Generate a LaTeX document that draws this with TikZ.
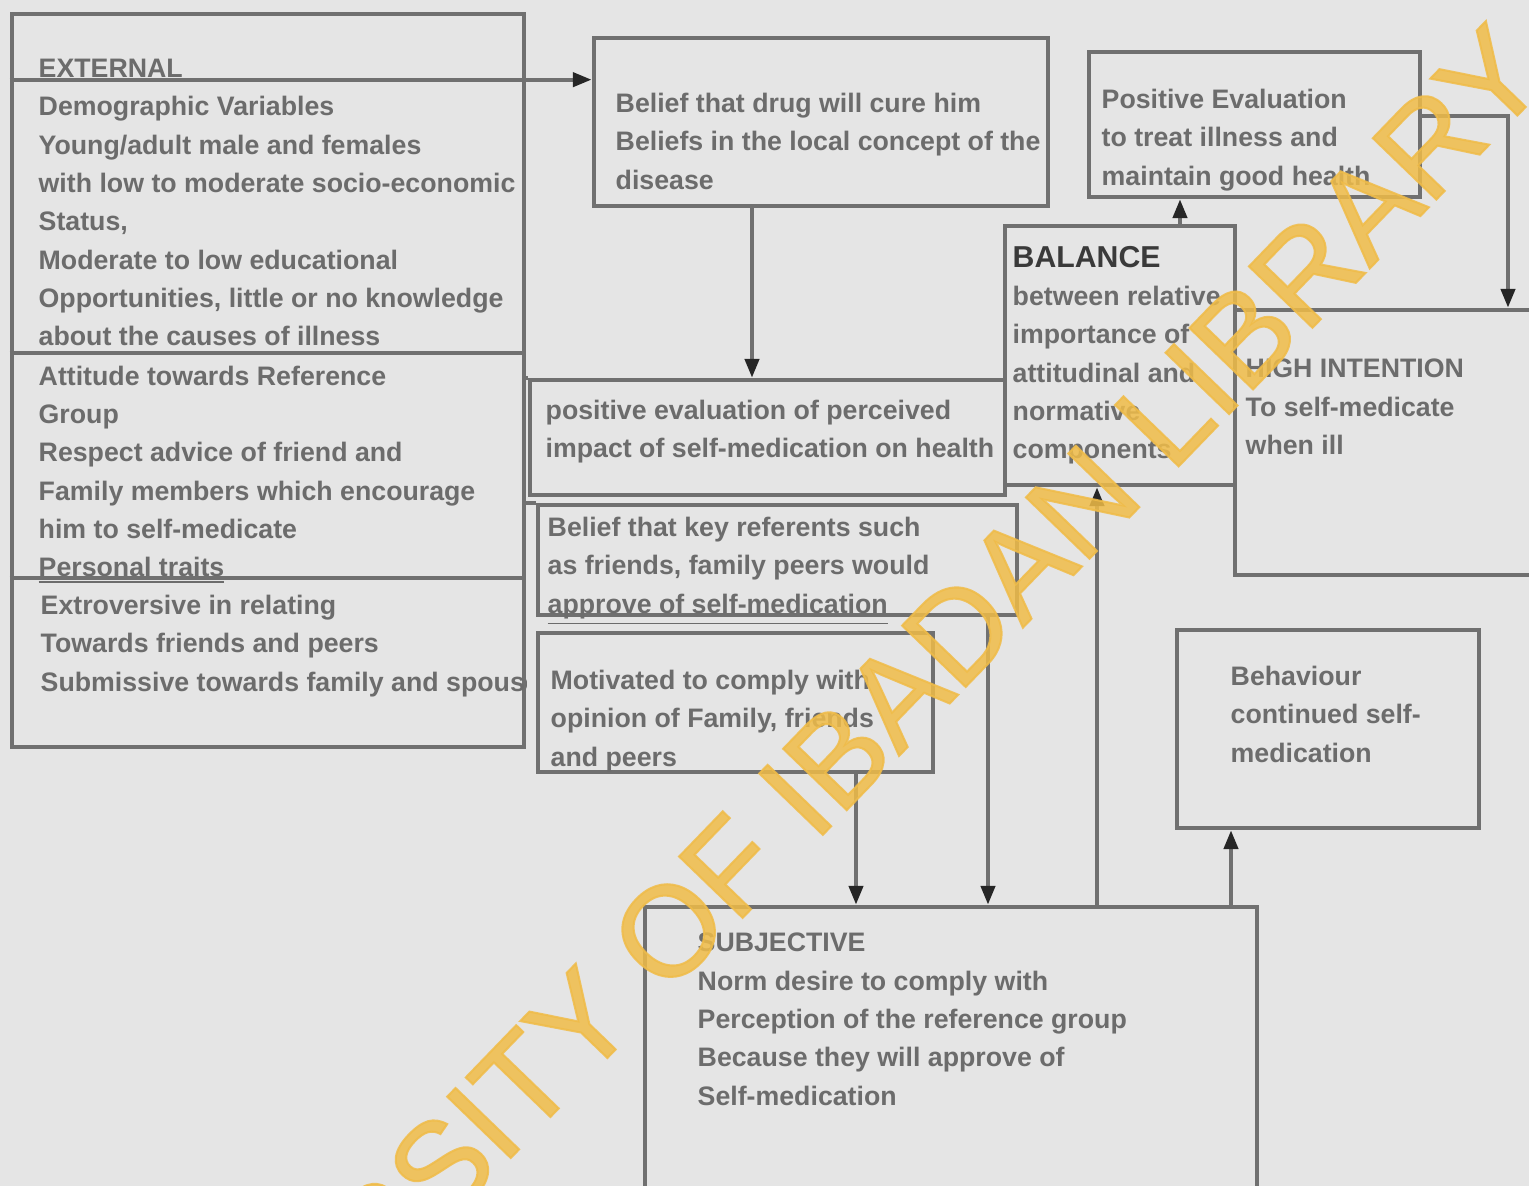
\documentclass[tikz,border=0pt]{standalone}
\usepackage{fontspec}
\setmainfont{Liberation Sans}
\newfontfamily\wmfont[FakeBold=1.6]{Liberation Sans}
\usepackage{tikz}
\usetikzlibrary{calc,shapes,positioning}
\usetikzlibrary{arrows.meta}
\tikzset{>={Triangle[width=1.4mm,length=1.9mm,color=black!85]}}
\definecolor{bggray}{RGB}{229,229,229}
\definecolor{linegray}{RGB}{112,112,112}
\definecolor{txtgray}{RGB}{108,108,108}
\definecolor{titlegray}{RGB}{58,58,58}
\definecolor{wmyellow}{RGB}{240,188,72}

\begin{document}
\begin{tikzpicture}
      \begin{scope}[x=0.01cm,y=-0.01cm]
        \tikzstyle{bnode} = [draw=linegray, line width=1.2pt, rectangle, inner sep=0pt]
        \tikzstyle{tnode} = [inner sep=0pt, anchor=north west, align=left, text=txtgray, font=\fontsize{7.6}{10.9}\selectfont\bfseries]
        \tikzstyle{conn} = [draw=linegray, line width=1.2pt]

        \useasboundingbox (0,0) rectangle (1529,1186);
        \fill[bggray] (0,0) rectangle (1529,1186);
        \clip (0,0) rectangle (1529,1186);

        % boxes
        \node[bnode, minimum width=5.12cm, minimum height=7.33cm] (ext) at (268,380.5) {};
        \node[bnode, minimum width=4.54cm, minimum height=1.68cm] (belief) at (821,122) {};
        \node[bnode, minimum width=4.75cm, minimum height=1.15cm] (posev) at (767.5,437.5) {};
        \node[bnode, minimum width=4.79cm, minimum height=1.10cm] (belkey) at (777.5,560) {};
        \node[bnode, minimum width=3.95cm, minimum height=1.39cm] (motiv) at (735.5,702.5) {};
        \node[bnode, minimum width=6.12cm, minimum height=3.10cm] (subj) at (951,1062) {};
        \node[bnode, minimum width=3.02cm, minimum height=1.98cm] (behav) at (1328,729) {};
        \node[bnode, minimum width=2.30cm, minimum height=2.59cm] (balance) at (1120,355.5) {};
        \node[bnode, minimum width=3.31cm, minimum height=1.45cm] (posevl) at (1254.5,124.5) {};
        \node[bnode, minimum width=3.20cm, minimum height=2.65cm] (hiint) at (1395,442.5) {};

        % texts
        \node[tnode] (extA) at (38,58.5) {EXTERNAL\\Demographic Variables\\Young/adult male and females\\with low to moderate socio-economic\\Status,\\Moderate to low educational\\Opportunities, little or no knowledge\\about the causes of illness};
        \node[tnode] (extB) at (38,365) {Attitude towards Reference\\Group\\Respect advice of friend and\\ Family members which encourage\\him to self-medicate\\ \underline{Personal traits}};
        \begin{scope}
          \clip (ext.north west) rectangle (ext.south east);
          \node[tnode] (extC) at (40,594.5) {Extroversive in relating\\Towards friends and peers\\Submissive towards family and spouse};
        \end{scope}
        \node[tnode] (beliefT) at (615,92.5) {Belief that drug will cure him\\Beliefs in the local concept of the\\disease};
        \node[tnode] (posevT) at (545,399.5) {positive evaluation of perceived\\impact of self-medication on health};
        \node[tnode] (belkeyT) at (547,516.5) {Belief that key referents such\\as friends, family peers would\\\underline{approve of self-medication}};
        \node[tnode] (motivT) at (550,669.5) {Motivated to comply with\\opinion of Family, friends\\and peers};
        \node[tnode] (subjT) at (697,932.5) {SUBJECTIVE\\Norm desire to comply with\\Perception of the reference group\\Because they will approve of\\Self-medication};
        \node[tnode] (behavT) at (1230,665.5) {Behaviour\\continued self-\\medication};
        \node[tnode] (balanceT) at (1012,245.5) {{\color{titlegray}\fontsize{8.6}{10.9}\selectfont BALANCE}\\ between relative\\ importance of\\attitudinal and\\normative\\components};
        \node[tnode] (posevlT) at (1101,88.5) {Positive Evaluation\\ to treat illness and\\ maintain good health};
        \node[tnode] (hiintT) at (1245,358.5) {HIGH INTENTION\\To self-medicate\\ when ill};

        % separators and connectors
        \coordinate (extsep) at ($(ext.north west)+(0,68)$);
        \draw[conn] ($(ext.north west)+(0,341)$) -- ($(ext.north east)+(0,341)$);
        \draw[conn] ($(ext.north west)+(0,566)$) -- ($(ext.north east)+(0,566)$);
        \draw[conn,->] (extsep) -- (extsep -| belief.west);
        \draw[conn] (ext.east |- posev.north) -- (posev.north west);
        \draw[conn] (ext.east |- belkey.north) -- (belkey.north west);

        \coordinate (c1) at (752,0);
        \coordinate (c2) at (856,0);
        \coordinate (c3) at (988,0);
        \coordinate (c4) at (1097,0);
        \coordinate (c5) at (1231,0);
        \coordinate (c6) at (1180,0);
        \coordinate (c7) at (1508,116);

        \draw[conn,->] (c1 |- belief.south) -- (c1 |- posev.north);
        \draw[conn,->] (c2 |- motiv.south) -- (c2 |- subj.north);
        \draw[conn,->] (c3 |- belkey.south) -- (c3 |- subj.north);
        \draw[conn,->] (c4 |- subj.north) -- (c4 |- balance.south);
        \draw[conn,->] (c5 |- subj.north) -- (c5 |- behav.south);
        \draw[conn,->] (c6 |- balance.north) -- (c6 |- posevl.south);
        \draw[conn,->] (c7 -| posevl.east) -| (c7 |- hiint.north);

        % watermark
        \node[rotate=46, text=wmyellow, opacity=0.85, inner sep=0pt, font=\wmfont\fontsize{36.5}{36.5}\selectfont] (wmark) at (797,798) {UNIVERSITY OF IBADAN LIBRARY};
      \end{scope}
    \end{tikzpicture}
\end{document}
